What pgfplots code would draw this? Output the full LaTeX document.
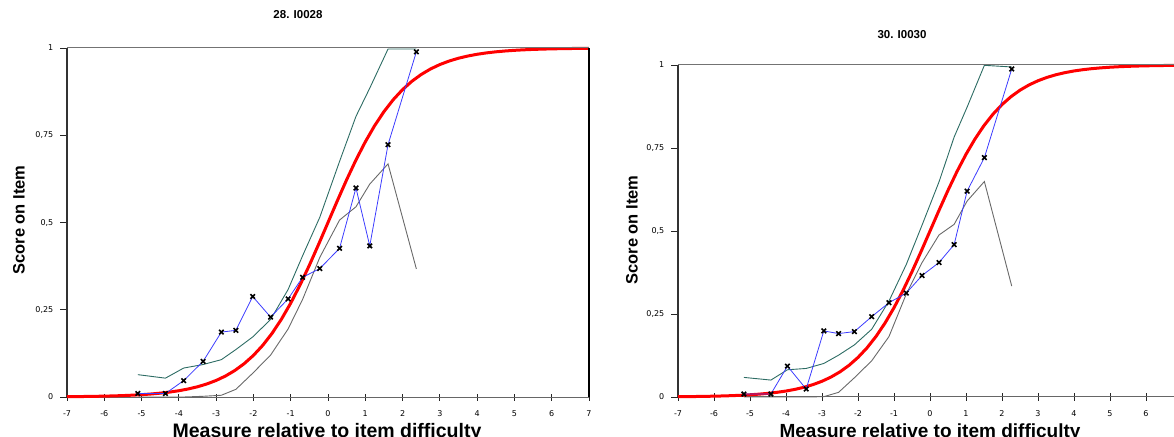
\documentclass[border=0pt]{standalone}
\usepackage{fontspec}
\setmainfont{Liberation Sans}
\newfontfamily\tickfont{DejaVu Sans}
\usepackage{pgfplots}
\usepackage{pgfplotstable}
\pgfplotsset{compat=1.18}

\definecolor{itemred}{RGB}{255,0,0}
\definecolor{empblue}{RGB}{60,60,255}
\definecolor{upteal}{RGB}{45,108,100}
\definecolor{lowgray}{RGB}{105,105,105}

% model curve (expected score)
\pgfplotstableread{
x p
-7 0.000911
-6.75 0.00117
-6.5 0.001501
-6.25 0.001927
-6 0.002473
-5.75 0.003173
-5.5 0.004070
-5.25 0.005220
-5 0.006693
-4.75 0.008577
-4.5 0.010987
-4.25 0.014064
-4 0.017986
-3.75 0.022977
-3.5 0.029312
-3.25 0.037327
-3 0.047426
-2.75 0.060087
-2.5 0.075858
-2.25 0.095349
-2 0.119203
-1.75 0.148047
-1.5 0.182426
-1.25 0.222700
-1 0.268941
-0.75 0.320821
-0.5 0.377541
-0.25 0.437823
0 0.5
0.25 0.562177
0.5 0.622459
0.75 0.679179
1 0.731059
1.25 0.777300
1.5 0.817574
1.75 0.851953
2 0.880797
2.25 0.904651
2.5 0.924142
2.75 0.939913
3 0.952574
3.25 0.962673
3.5 0.970688
3.75 0.977023
4 0.982014
4.25 0.985936
4.5 0.989013
4.75 0.991423
5 0.993307
5.25 0.994780
5.5 0.995930
5.75 0.996827
6 0.997527
6.25 0.998073
6.5 0.998499
6.75 0.998830
7 0.999089
}\model

% item 28: empirical, upper and lower bands
\pgfplotstableread{
x emp up low
-5.10 0.010 0.064 0.000
-4.36 0.010 0.054 0.000
-3.87 0.047 0.083 0.000
-3.35 0.102 0.093 0.002
-2.86 0.186 0.107 0.005
-2.47 0.191 0.136 0.022
-2.02 0.288 0.172 0.068
-1.54 0.229 0.222 0.120
-1.07 0.281 0.308 0.195
-0.68 0.343 0.405 0.280
-0.22 0.368 0.515 0.400
0.31 0.426 0.675 0.507
0.75 0.599 0.804 0.545
1.12 0.433 0.885 0.610
1.61 0.723 0.997 0.668
2.37 0.989 0.997 0.367
}\itemA

% item 30
\pgfplotstableread{
x emp up low
-5.17 0.009 0.059 0.000
-4.42 0.009 0.051 0.000
-3.96 0.093 0.082 0.000
-3.44 0.024 0.086 0.000
-2.95 0.199 0.101 0.001
-2.54 0.191 0.126 0.014
-2.10 0.197 0.157 0.058
-1.62 0.242 0.204 0.109
-1.14 0.284 0.289 0.182
-0.66 0.313 0.399 0.310
-0.22 0.366 0.518 0.405
0.25 0.405 0.648 0.488
0.67 0.459 0.783 0.520
1.03 0.620 0.873 0.590
1.51 0.721 0.999 0.649
2.27 0.988 0.994 0.334
}\itemB

\pgfplotsset{
  icc/.style={
    scale only axis, clip=false,
    xmin=-7, xmax=7, ymin=0, ymax=1,
    axis x line*=bottom, axis y line*=left,
    axis line style={-},
    x axis line style={draw=black!60, line width=1pt},
    y axis line style={draw=black!80, line width=1.4pt},
    xtick={-7,-6,...,7},
    xticklabels={-7,-6,-5,-4,-3,-2,-1,0,1,2,3,4,5,6,7},
    ytick={0,0.25,0.5,0.75,1},
    yticklabels={0,{0,25},{0,5},{0,75},1},
    tick align=center, major tick length=7pt,
    tick style={draw=black!85, line width=0.9pt},
    y tick style={xshift=-3.5pt},
    ticklabel style={font=\tickfont\fontsize{8}{9}\selectfont, text=black},
    xticklabel style={anchor=center, yshift=-13pt},
    yticklabel style={anchor=east, inner sep=0pt, xshift=-10pt},
  },
  lowline/.style={lowgray, line width=0.9pt},
  upline/.style={upteal, line width=0.9pt},
  modelline/.style={itemred, line width=3pt},
  empline/.style={empblue, line width=0.8pt, mark=x, mark size=3.2pt,
    mark options={black, line width=1.6pt}},
}

\begin{document}
\begin{tikzpicture}[x=1pt,y=1pt]
\begin{axis}[icc, at={(67pt,39pt)}, anchor=south west, width=522pt, height=349pt]
\addplot[lowline] table[x=x,y=low]{\itemA};
\addplot[upline] table[x=x,y=up]{\itemA};
\addplot[modelline] table[x=x,y=p]{\model};
\addplot[empline] table[x=x,y=emp]{\itemA};
\draw[black!55, line width=1pt] (rel axis cs:0,1) -- (rel axis cs:1,1);
\draw[black, line width=1.4pt] (rel axis cs:1,0) -- (rel axis cs:1,1);
\end{axis}
\begin{axis}[icc, at={(678pt,39pt)}, anchor=south west, width=504pt, height=332pt,
    xticklabels={-7,-6,-5,-4,-3,-2,-1,0,1,2,3,4,5,6,{}}]
\addplot[lowline] table[x=x,y=low]{\itemB};
\addplot[upline] table[x=x,y=up]{\itemB};
\addplot[modelline] table[x=x,y=p]{\model};
\addplot[empline] table[x=x,y=emp]{\itemB};
\draw[black!55, line width=1pt] (rel axis cs:0,1) -- (rel axis cs:1,1);
\end{axis}
\node[font=\bfseries\fontsize{11.5}{12}\selectfont] at (298,421) {28. I0028};
\node[font=\bfseries\fontsize{11.5}{12}\selectfont] at (902,401) {30. I0030};
\node[rotate=90, font=\bfseries\fontsize{16.5}{17}\selectfont] at (19,216) {Score on Item};
\node[rotate=90, font=\bfseries\fontsize{16.5}{17}\selectfont] at (632,206) {Score on Item};
\node[anchor=base, inner sep=0pt, font=\bfseries\fontsize{19.5}{20}\selectfont] at (327,-1) {Measure relative to item difficulty};
\node[anchor=base, inner sep=0pt, font=\bfseries\fontsize{19}{20}\selectfont] at (930,-1) {Measure relative to item difficulty};
\pgfresetboundingbox
\useasboundingbox (0,0) rectangle (1174,436);
\end{tikzpicture}
\end{document}
